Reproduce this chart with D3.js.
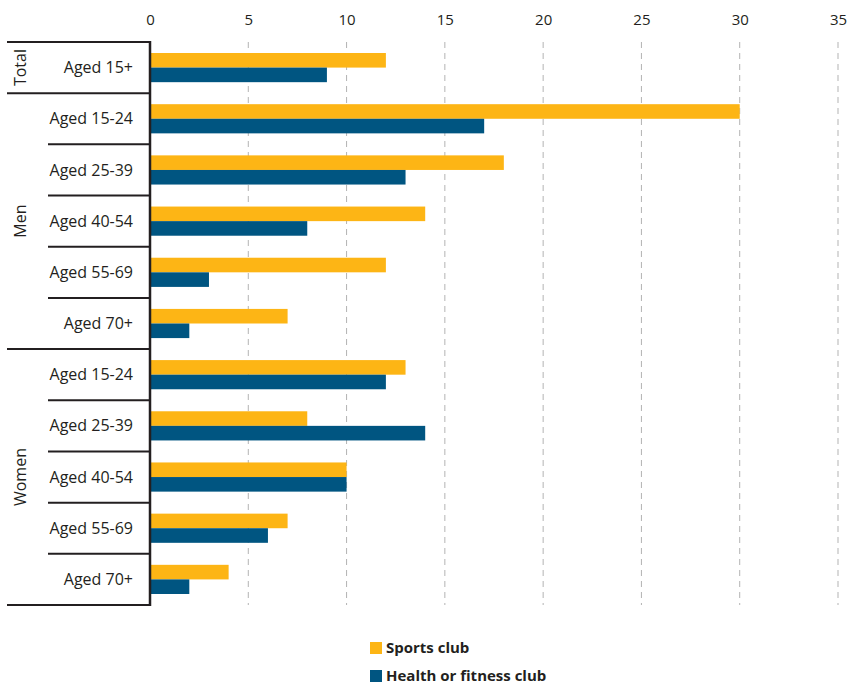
<!DOCTYPE html>
<html><head><meta charset="utf-8">
<script src="https://cdn.jsdelivr.net/npm/d3@7"></script>
<style>body{margin:0;background:#fff;} text{font-family:"Open Sans","Noto Sans",sans-serif;fill:#231f20;}</style>
</head><body>
<svg id="c" width="850" height="686"></svg>
<script>
const groups = ["Total","Men","Men","Men","Men","Men","Women","Women","Women","Women","Women"];
const categories = ["Aged 15+","Aged 15-24","Aged 25-39","Aged 40-54","Aged 55-69","Aged 70+","Aged 15-24","Aged 25-39","Aged 40-54","Aged 55-69","Aged 70+"];
const sportsClub = [12,30,18,14,12,7,13,8,10,7,4];
const healthClub = [9,17,13,8,3,2,12,14,10,6,2];
const seriesNames = ["Sports club","Health or fitness club"];
const colors = ["#fdb515","#005581"];
const tickValues = [0,5,10,15,20,25,30,35];

const svg = d3.select("#c");
const mLeft = 150, mRight = 838, mTop = 42, mBottom = 605;
const rows = categories.map((c,i)=>({id:i, cat:c, grp:groups[i], vals:[sportsClub[i], healthClub[i]]}));
const x = d3.scaleLinear().domain([0,35]).range([mLeft,mRight]);
const y = d3.scaleBand().domain(rows.map(r=>r.id)).range([mTop,mBottom]).paddingInner(0.43).paddingOuter(0.215);
const yb = d3.scaleBand().domain(rows.map(r=>r.id)).range([mTop,mBottom]);
const ys = d3.scaleBand().domain([0,1]).range([0,y.bandwidth()]);

// gridlines
svg.append("g").selectAll("line").data(tickValues.filter(t=>t>0)).join("line")
  .attr("x1",d=>x(d)).attr("x2",d=>x(d)).attr("y1",mTop).attr("y2",mBottom)
  .attr("stroke","#b3b3b3").attr("stroke-width",1).attr("stroke-dasharray","6,5");

// top axis
const ax = svg.append("g").attr("transform",`translate(0,${mTop-10})`)
  .call(d3.axisTop(x).tickValues(tickValues).tickSize(0).tickPadding(7));
ax.select(".domain").remove();
ax.selectAll("text").style("font-size","15px").style("font-family","'Open Sans',sans-serif").attr("fill","#231f20");

// bars
const rg = svg.append("g").selectAll("g").data(rows).join("g").attr("transform",d=>`translate(0,${y(d.id)})`);
rg.selectAll("rect").data(d=>d.vals.map((v,k)=>({v,k}))).join("rect")
  .attr("x",x(0)).attr("y",d=>ys(d.k)).attr("height",ys.bandwidth())
  .attr("width",d=>x(d.v)-x(0)).attr("fill",d=>colors[d.k]);

// category labels
svg.append("g").selectAll("text").data(rows).join("text")
  .attr("x",133).attr("y",d=>yb(d.id)+yb.bandwidth()/2).attr("dy","0.35em")
  .attr("text-anchor","end").style("font-size","16px").text(d=>d.cat);

// row separator lines
const lineColor = "#231f20";
rows.forEach((r,i)=>{
  if(i===0) return;
  const groupStart = r.grp !== rows[i-1].grp;
  svg.append("line").attr("x1",groupStart?7:48).attr("x2",mLeft).attr("y1",yb(r.id)).attr("y2",yb(r.id))
    .attr("stroke",lineColor).attr("stroke-width",2);
});
svg.append("line").attr("x1",7).attr("x2",mLeft).attr("y1",mTop).attr("y2",mTop).attr("stroke",lineColor).attr("stroke-width",2);
svg.append("line").attr("x1",7).attr("x2",mLeft).attr("y1",mBottom).attr("y2",mBottom).attr("stroke",lineColor).attr("stroke-width",2);
svg.append("line").attr("x1",mLeft).attr("x2",mLeft).attr("y1",mTop-1).attr("y2",mBottom+1).attr("stroke",lineColor).attr("stroke-width",2.5);

// group labels
const grpNames = [...new Set(groups)];
grpNames.forEach(g=>{
  const ids = rows.filter(r=>r.grp===g).map(r=>r.id);
  const y0 = yb(ids[0]), y1 = yb(ids[ids.length-1])+yb.bandwidth();
  const cy = (y0+y1)/2;
  svg.append("text").attr("transform",`translate(20,${cy}) rotate(-90)`).attr("dy","0.35em")
    .attr("text-anchor","middle").style("font-size","16px").text(g);
});

// legend
const lg = svg.append("g").selectAll("g").data(seriesNames).join("g")
  .attr("transform",(d,i)=>`translate(370,${648+i*28})`);
lg.append("rect").attr("x",0).attr("y",-6).attr("width",12).attr("height",12).attr("fill",(d,i)=>colors[i]);
lg.append("text").attr("x",16).attr("y",0).attr("dy","0.35em").style("font-size","15px").style("font-weight","bold").text(d=>d);
</script>
</body></html>
